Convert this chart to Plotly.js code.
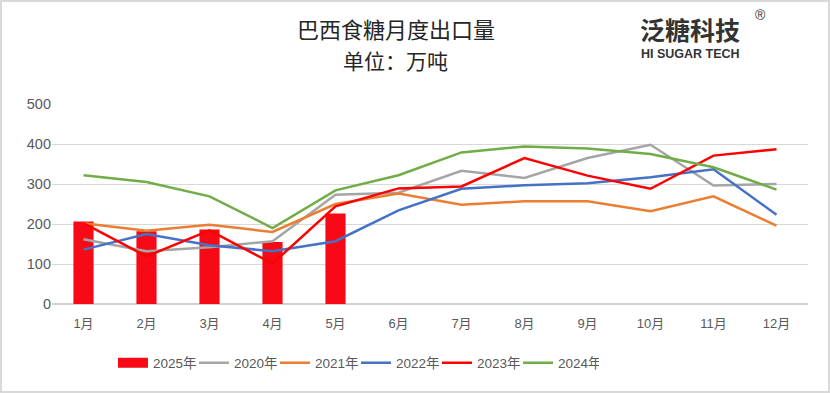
<!DOCTYPE html>
<html><head><meta charset="utf-8">
<script src="https://cdn.plot.ly/plotly-3.0.1.min.js"></script>
<style>
html,body{margin:0;padding:0;background:#fff;}
#wrap{position:relative;width:830px;height:393px;}
#chart{width:830px;height:393px;}
#frame{position:absolute;left:0;top:0;width:830px;height:393px;box-sizing:border-box;border:2px solid #d9d9d9;pointer-events:none;}
</style></head>
<body>
<div id="wrap"><div id="chart"></div><div id="frame"></div></div>
<script>
const months = ['1月','2月','3月','4月','5月','6月','7月','8月','9月','10月','11月','12月'];
const y2025 = [206, 182, 186, 155, 226];
const y2020 = [162, 132, 142, 157, 273, 278, 333, 315, 365, 398, 296, 300];
const y2021 = [202, 183, 198, 180, 250, 276, 248, 257, 257, 232, 269, 196];
const y2022 = [136, 175, 147, 132, 157, 234, 288, 297, 302, 317, 337, 223];
const y2023 = [202, 119, 184, 101, 244, 289, 294, 365, 321, 288, 371, 387];
const y2024 = [322, 305, 269, 190, 284, 322, 379, 394, 389, 375, 342, 286];

const barColor = '#f70a15';
const lineSeries = [
  {name:'2020年', y:y2020, color:'#a5a5a5'},
  {name:'2021年', y:y2021, color:'#ed7d31'},
  {name:'2022年', y:y2022, color:'#4472c4'},
  {name:'2023年', y:y2023, color:'#ff0000'},
  {name:'2024年', y:y2024, color:'#70ad47'}
];

const traces = [{
  type:'bar', name:'2025年', x:months.slice(0, y2025.length), y:y2025,
  marker:{color:barColor}, width:0.32, showlegend:false, legendgroup:'b'
}, {
  // legend-only swatch for the bar series (wide rectangle like the reference)
  type:'scatter', mode:'lines', name:'2025年', x:[months[0]], y:[null],
  line:{color:barColor, width:12}, legendgroup:'b', hoverinfo:'skip'
}];
lineSeries.forEach(s => traces.push({
  type:'scatter', mode:'lines', name:s.name, x:months, y:s.y,
  line:{color:s.color, width:2.5}
}));

const layout = {
  width:830, height:393,
  margin:{l:52, r:22, t:104, b:89},
  paper_bgcolor:'#fff', plot_bgcolor:'#fff',
  font:{family:'"Liberation Sans", "Noto Sans CJK SC", sans-serif', color:'#595959', size:13},
  showlegend:true,
  legend:{orientation:'h', x:(113-52)/756, xanchor:'left', y:-0.295, yanchor:'middle',
    font:{size:13.5, color:'#595959'}, traceorder:'normal', itemwidth:30,
    entrywidth:36, entrywidthmode:'pixels'},
  xaxis:{type:'category', categoryarray:months, range:[-0.5, 11.5],
    showgrid:false, showline:false, zeroline:false, ticks:'', ticklabelstandoff:10,
    tickfont:{size:13, color:'#595959'}},
  yaxis:{range:[0,500], dtick:100, showgrid:true, gridcolor:'#d9d9d9', gridwidth:1,
    zeroline:true, zerolinecolor:'#d0d0d0', zerolinewidth:1.5, showline:false, ticks:'',
    tickfont:{family:'"Liberation Sans", Arial, sans-serif', size:14.5, color:'#595959'}},
  annotations:[
    {xref:'paper', yref:'paper', x:(396-52)/756, y:(304-28)/200, xanchor:'center', yanchor:'middle',
     text:'巴西食糖月度出口量', showarrow:false, font:{size:22, color:'#262626', family:'"Noto Sans CJK SC", sans-serif'}},
    {xref:'paper', yref:'paper', x:(395-52)/756, y:(304-60)/200, xanchor:'center', yanchor:'middle',
     text:'单位：万吨', showarrow:false, font:{size:21, color:'#262626', family:'"Noto Sans CJK SC", sans-serif'}},
    {xref:'paper', yref:'paper', x:(690-52)/756, y:(304-29)/200, xanchor:'center', yanchor:'middle',
     text:'<b>泛糖科技</b>', showarrow:false, font:{size:25, color:'#333333', family:'"Noto Sans CJK SC", sans-serif'}},
    {xref:'paper', yref:'paper', x:(760-52)/756, y:(304-15)/200, xanchor:'center', yanchor:'middle',
     text:'®', showarrow:false, font:{size:14, color:'#333333', family:'"Liberation Sans", sans-serif'}},
    {xref:'paper', yref:'paper', x:(690-52)/756, y:(304-54)/200, xanchor:'center', yanchor:'middle',
     text:'<b>HI SUGAR TECH</b>', showarrow:false, font:{size:12.5, color:'#333333', family:'"Liberation Sans", Arial, sans-serif'}}
  ]
};

Plotly.newPlot('chart', traces, layout, {displayModeBar:false, staticPlot:true});
</script>
</body></html>
